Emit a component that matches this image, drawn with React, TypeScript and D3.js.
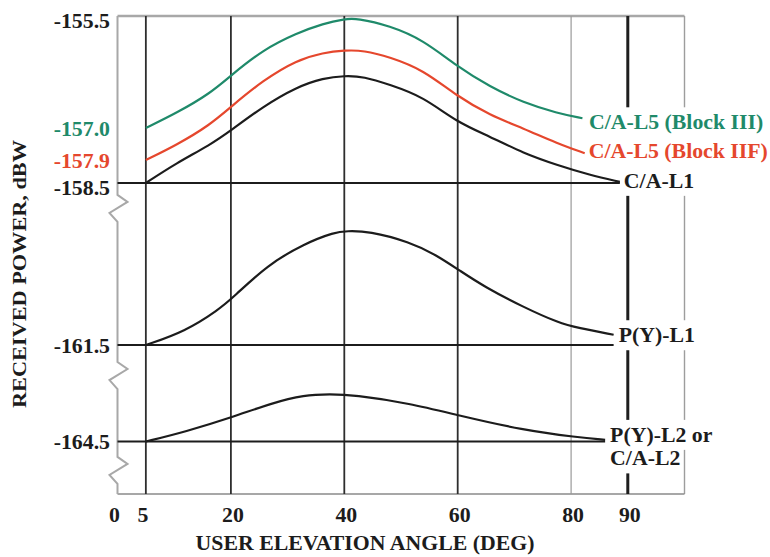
import React from "react";
import * as d3 from "d3";

// Elevation angle ticks (degrees)
const xTicks = [0, 5, 20, 40, 60, 80, 90];
// Received-power axis values shown on the broken axis (dBW)
const yTickValues = [-155.5, -157.0, -157.9, -158.5, -161.5, -164.5];
const yTickLabels = ["-155.5", "-157.0", "-157.9", "-158.5", "-161.5", "-164.5"];
// Where the zigzag axis breaks start (dBW)
const axisBreaks = [-158.72, -162.03, -164.94];

// C/A-L5 (Block III)
const blockIIIDeg = [5, 10.4, 16.3, 20.1, 25.7, 31.6, 36.3, 40.1, 42.2, 48, 53.9, 59.8, 65.7, 71.6, 77.5, 82];
const blockIIIPower = [-157.0, -156.8, -156.54, -156.29, -155.95, -155.73, -155.6, -155.54, -155.53, -155.63, -155.82, -156.17, -156.45, -156.66, -156.8, -156.87];

// C/A-L5 (Block IIF)
const blockIIFDeg = [5, 10.4, 16.3, 20.1, 25.7, 31.6, 36.3, 40.1, 43.4, 48, 53.9, 59.8, 65.7, 71.6, 77.5, 82.4];
const blockIIFPower = [-157.9, -157.48, -156.96, -156.71, -156.36, -156.09, -155.99, -155.96, -155.96, -156.05, -156.22, -156.57, -156.83, -157.01, -157.43, -157.71];

// C/A-L1
const caL1Deg = [5, 10.4, 16.3, 20.1, 25.7, 31.6, 36.3, 40.1, 43.4, 48, 53.9, 59.8, 65.7, 71.6, 77.5, 83.3, 88.6];
const caL1Power = [-158.5, -157.98, -157.48, -157.06, -156.71, -156.45, -156.33, -156.3, -156.31, -156.42, -156.58, -156.92, -157.24, -157.71, -158.03, -158.29, -158.47];

// P(Y)-L1
const pyL1Deg = [5, 11.9, 17.8, 20.5, 26.4, 33.0, 38.3, 40.4, 44.3, 51.5, 56.2, 60.6, 64.7, 71.4, 78.0, 81.1, 87.5];
const pyL1Power = [-161.5, -161.25, -160.85, -160.61, -160.02, -159.62, -159.41, -159.39, -159.39, -159.59, -159.83, -160.14, -160.42, -160.79, -161.1, -161.18, -161.31];

// P(Y)-L2 or C/A-L2
const pyL2Deg = [5, 11.9, 20.5, 27.1, 33.0, 37.5, 41.6, 51.5, 60.6, 71.4, 81.1, 86.0];
const pyL2Power = [-164.5, -164.2, -163.73, -163.31, -163.05, -163.03, -163.05, -163.31, -163.71, -164.14, -164.37, -164.45];

const GREEN = "#1f8a6a";
const RED = "#e5472d";
const INK = "#1c1c1c";
const FRAME = "#a8a8a8";
const FONT = "'Liberation Serif', 'Times New Roman', serif";
const STRETCH = 1.09;

type Series = {
  deg: number[];
  power: number[];
  color: string;
  label: string[];
  labelDx: number;
  labelDy: number;
  floor?: number;
};

const series: Series[] = [
  { deg: blockIIIDeg, power: blockIIIPower, color: GREEN, label: ["C/A-L5 (Block III)"], labelDx: 6.5, labelDy: 4 },
  { deg: blockIIFDeg, power: blockIIFPower, color: RED, label: ["C/A-L5 (Block IIF)"], labelDx: 4, labelDy: -2 },
  { deg: caL1Deg, power: caL1Power, color: INK, label: ["C/A-L1"], labelDx: 4, labelDy: -1, floor: -158.5 },
  { deg: pyL1Deg, power: pyL1Power, color: INK, label: ["P(Y)-L1"], labelDx: 5, labelDy: 0.5, floor: -161.5 },
  { deg: pyL2Deg, power: pyL2Power, color: INK, label: ["P(Y)-L2 or", "C/A-L2"], labelDx: 5, labelDy: -5, floor: -164.5 },
];

const yTickColor = (v: number) => (v === -157.0 ? GREEN : v === -157.9 ? RED : INK);
const yTickDy = (v: number) => (v === -155.5 ? 5.5 : v === -158.5 ? 5.5 : 1.2);

function textWidth(s: string, size: number): number {
  const c = document.createElement("canvas").getContext("2d");
  if (!c) return s.length * size * 0.55;
  c.font = `bold ${size}px 'Liberation Serif'`;
  return c.measureText(s).width;
}

export default function App() {
  const W = 770;
  const H = 557;

  const x = d3.scaleLinear().domain([0, 100]).range([117.5, 684.5]);
  // piecewise scale across the axis breaks
  const y = d3
    .scaleLinear()
    .domain([-166, -164.5, -161.5, -158.5, -157.9, -157.0, -155.5])
    .range([494, 441.5, 345, 183, 160, 128, 16]);

  const yTop = y(-155.5);
  const yBottom = y(-166);
  const x0 = x(0);
  const x100 = x(100);

  const line = d3
    .line<[number, number]>()
    .x((d) => x(d[0]))
    .y((d) => y(d[1]))
    .curve(d3.curveBasis);

  // left frame with zigzag breaks
  const frame = d3.path();
  frame.moveTo(x0, yTop);
  axisBreaks.forEach((b) => {
    const yb = y(b);
    frame.lineTo(x0, yb);
    frame.lineTo(x0 + 10, yb + 7);
    frame.lineTo(x0 - 8, yb + 18);
    frame.lineTo(x0, yb + 27);
  });
  frame.lineTo(x0, yBottom);

  const gridStyle = (t: number) =>
    t === 90
      ? { stroke: "#1e1e1e", width: 3 }
      : t === 80
      ? { stroke: "#9a9a9a", width: 1.2 }
      : { stroke: "#2e2e2e", width: 1.8 };

  const labelSize = 20;

  return (
    <svg
      width={W}
      height={H}
      viewBox={`0 0 ${W} ${H}`}
      style={{ position: "absolute", left: 0, top: 0, background: "#fff" }}
      fontFamily={FONT}
      fontWeight="bold"
    >
      <rect x={0} y={0} width={W} height={H} fill="#fff" />

      {/* frame: top, right, bottom, left */}
      <line x1={x0} x2={x100} y1={yTop} y2={yTop} stroke={FRAME} strokeWidth={2.5} />
      <line x1={x100} x2={x100} y1={yTop} y2={yBottom} stroke="#9d9d9d" strokeWidth={1.4} />
      <line x1={x0} x2={x100} y1={yBottom} y2={yBottom} stroke="#8a8a8a" strokeWidth={1.4} />
      <path d={frame.toString()} fill="none" stroke={FRAME} strokeWidth={2} />

      {/* vertical grid at elevation ticks */}
      {xTicks
        .filter((t) => t > 0)
        .map((t) => {
          const s = gridStyle(t);
          return (
            <line key={t} x1={x(t)} x2={x(t)} y1={yTop} y2={yBottom} stroke={s.stroke} strokeWidth={s.width} />
          );
        })}

      {/* minimum-power reference lines */}
      {series
        .filter((s) => s.floor !== undefined)
        .map((s, i) => (
          <line
            key={`floor-${i}`}
            x1={x0}
            x2={x(s.deg[s.deg.length - 1])}
            y1={y(s.floor as number)}
            y2={y(s.floor as number)}
            stroke={INK}
            strokeWidth={2}
          />
        ))}

      {/* curves */}
      {series.map((s, i) => (
        <path
          key={`c-${i}`}
          d={line(s.deg.map((d, k) => [d, s.power[k]] as [number, number])) || ""}
          fill="none"
          stroke={s.color}
          strokeWidth={2.2}
          strokeLinejoin="round"
        />
      ))}

      {/* curve labels on white boxes */}
      {series.map((s, i) => {
        const n = s.deg.length - 1;
        const lx = x(s.deg[n]) + s.labelDx;
        const ly = y(s.power[n]) + s.labelDy;
        return (
          <g key={`l-${i}`}>
            {s.label.map((t, k) => {
              const w = textWidth(t, labelSize) * STRETCH;
              return (
                <rect key={`r-${k}`} x={lx - 2} y={ly + k * 23.5 - 15} width={w + 4} height={30} fill="#fff" />
              );
            })}
            {s.label.map((t, k) => (
              <text
                key={`t-${k}`}
                transform={`translate(${lx},${ly + k * 23.5}) scale(${STRETCH},1)`}
                fontSize={labelSize}
                fill={s.color}
                dominantBaseline="central"
              >
                {t}
              </text>
            ))}
          </g>
        );
      })}

      {/* y tick labels */}
      {yTickValues.map((v, i) => (
        <text
          key={`yt-${i}`}
          transform={`translate(110,${y(v) + yTickDy(v)}) scale(${STRETCH},1)`}
          textAnchor="end"
          dominantBaseline="central"
          fontSize={20}
          fill={yTickColor(v)}
        >
          {yTickLabels[i]}
        </text>
      ))}

      {/* x tick labels */}
      {xTicks.map((t) => (
        <text
          key={`xt-${t}`}
          transform={`translate(${x(t) + (t === 0 ? -3 : t === 5 ? -3 : 2)},515) scale(${STRETCH},1)`}
          textAnchor="middle"
          dominantBaseline="central"
          fontSize={20}
          fill={INK}
        >
          {t}
        </text>
      ))}

      {/* axis titles */}
      <text
        transform={`translate(365,543) scale(${STRETCH},1)`}
        textAnchor="middle"
        dominantBaseline="central"
        fontSize={20}
        fill={INK}
      >
        USER ELEVATION ANGLE (DEG)
      </text>
      <text
        transform="translate(19,274) rotate(-90)"
        textAnchor="middle"
        dominantBaseline="central"
        fontSize={19}
        textLength={268}
        lengthAdjust="spacingAndGlyphs"
        fill={INK}
      >
        RECEIVED POWER, dBW
      </text>
    </svg>
  );
}
